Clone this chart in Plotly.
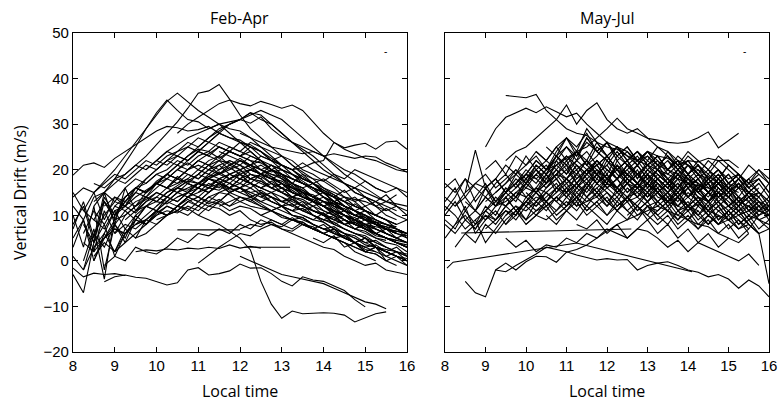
import plotly.graph_objects as go

STEP = 0.25  # hours between samples

# ---------------- Feb-Apr panel ----------------
feb_start = [10.5, 8.5, 8.0, 8.5, 8.5, 10.0, 13.25, 12.0,
             8.75, 10.5, 12.0, 8.0, 9.5, 11.0,
             8.0, 8.0, 8.0, 8.25, 8.25, 8.5, 8.5, 8.75, 8.5, 9.0,
             8.0, 8.25, 8.5, 9.0, 9.25, 9.5, 8.0, 8.75, 10.0, 10.5,
             9.75, 11.0, 12.0, 12.5, 13.0, 11.5, 8.0, 8.0, 9.0, 10.25,
             12.0, 13.5, 8.25, 9.5, 10.0, 12.25, 14.0, 13.0, 14.5, 8.75,
             11.0, 9.25]
feb_vals = [
    [28, 30, 31.5, 33, 34.5, 35.3, 34.5, 34, 35, 34.3, 33.5, 34.2, 33, 30.5, 28, 26, 24.5, 23.5, 22.5, 22, 21, 20, 19.5],
    [13, 15, 17, 19, 21, 23, 25.5, 28, 30.5, 33.5, 36.8, 37.3, 38.7, 35.5, 32, 29, 27, 25, 23, 21, 19.5, 18, 16, 14.5, 13, 11, 10, 8.5, 7, 6],
    [18.8, 21, 21.5, 20.5, 22.5, 24, 25.5, 27, 28.5, 29.5, 29.2, 28.5, 28.8, 29.5, 28, 27, 26.5, 25, 24, 22.5, 21, 20, 18.5, 17, 15.5, 14.5, 13, 12, 11, 10],
    [15, 17.5, 20, 23, 26, 29, 32, 35, 36.8, 35, 33, 31.5, 30, 29, 28.5, 27, 25, 23, 21, 19, 17.5, 16, 14, 12.5, 11],
    [12, 15, 18, 21.5, 25, 29, 32.5, 35.3, 33, 31, 30.5, 29, 30, 28, 26, 24, 22, 20, 18, 16.5, 15, 13],
    [22, 24, 25.5, 27, 28, 29, 30, 30.5, 31, 30.2, 31.6, 29, 27.2, 26, 25, 24, 23, 21.5, 20, 19, 17.5, 16, 15],
    [20, 20.5, 21.5, 22, 26, 24.8, 25.4, 25.8, 24.5, 26.1, 26.3, 24.5],
    [28, 27, 26, 25, 24.5, 24, 23.5, 24, 23, 23.5, 23, 22.5, 23, 22.8, 21.5, 20.6, 19.5],
    [-4.6, -3.5, -3.1, -3.6, -3.8, -4.5, -5.3, -4.8, -2, -1.5, -3.1, -2.8, -2.2, -0.7, -1.6, -1.5, -2.8, -4.5, -5.5, -3.5, -4.2, -4.5, -5.5, -6.5, -8.5, -10.1],
    [12, 11.5, 10, 9, 8, 6.5, 5, 2.4, -4.5, -9.5, -12.6, -11, -11.6, -11.5, -11.4, -11.5, -11.9, -13.4, -12.5, -11.6, -11.2],
    [1, 0, -1, -2, -3, -3.5, -4, -4.5, -5, -6, -7, -8, -9, -9.5, -10.5],
    [-1.6, -3.5, -2.7, -3, -2.8, -3.2],
    [2, 2.4, 2.2, 2.6, 2.4, 2.8, 2.6, 3, 2.7, 3.5, 2.8, 3.2, 2.8],
    [-0.5, 1.3, 3, 4.5, 6, 5.5, 7, 8, 7, 6.5, 8, 7, 6, 5, 4, 3, 2, 1.5, 0, -1],
    [5, 9, 2, 11, 6, 10, 12, 13.5, 15, 14, 16, 17.5, 17, 18.5, 19, 18, 19.5, 20, 19, 18, 17.5, 16, 15, 14.5, 13, 12, 11.5, 10, 9, 8, 7.5, 6, 5.5],
    [10, 3, 12, -2, 8, 11, 9, 12, 13, 12.5, 14, 15, 14, 16, 15.5, 17, 16, 15, 15.5, 14, 13, 13.5, 12, 11, 10.5, 9, 8, 8.5, 7, 6, 5, 4.5, 4],
    [-3, -7, 4, 8, 1, 6, 9, 8, 10.5, 12, 11, 13, 14, 12.5, 13.5, 12, 13, 12, 11.5, 11, 10, 9, 9.5, 8, 7, 6, 5.5, 4, 3, 3.5, 2, 1, 0.5],
    [0, 7, -4, 10, 13, 12, 15, 17, 16, 18, 20, 21, 20, 22, 21.5, 20, 21, 19, 18, 17, 15.5, 14, 13, 12, 10.5, 9, 8, 7, 5.5, 5, 4, 3],
    [8, 4, 13, 9, 14, 16, 15, 17.5, 19, 18, 17, 19, 18, 17.5, 16, 15, 16, 14.5, 13, 12, 12.5, 11, 10, 9, 8.5, 7, 6, 5.5, 4, 3],
    [3, 5, 9, 10, 12, 14, 13, 15, 16.5, 18, 17, 18.5, 20, 21, 22, 20.5, 19, 18, 17, 15, 14, 13.5, 12, 11, 10, 8.5, 7, 6, 5],
    [1, 4, 2, 6, 8, 9, 11, 10, 12, 13.5, 12, 14, 15, 14.5, 13, 14, 12.5, 11, 12, 10, 9.5, 8, 7, 6.5, 5, 4, 2.5, 2],
    [12, 14, 13, 16, 17, 19, 18, 20, 21.5, 20, 22, 23, 21, 22.5, 21, 20, 18.5, 17, 16, 14.5, 13, 12, 10.5, 9, 8, 7, 6],
    [6, 10, 13, 12, 15, 18, 20, 22, 21, 23, 24.5, 24, 26, 25, 24, 23, 22, 20, 19, 17, 15.5, 14, 13, 11.5, 10, 9, 7.5, 7],
    [2, 4, 6, 8, 10, 11, 10.5, 12, 11, 13, 12.5, 11, 12, 11.5, 10, 11, 9.5, 9, 8, 7.5, 6, 5, 5.5, 4, 3],
    [12, 9, 14, 15, 13, 16, 18, 17, 19, 20, 22, 21, 23, 24, 22.5, 24, 23, 22, 21.5, 20, 18.5, 17, 16, 14, 13, 12.5, 11, 10, 9, 8.5, 7, 6.5, 6],
    [6, 11, 8, 12, 11, 13, 14, 13, 15, 16, 15.5, 17, 18, 19.5, 18, 19, 20, 19, 18.5, 17, 16, 15.5, 14, 13, 12.5, 11, 10, 9.5, 8, 7.5, 7, 6],
    [9, 7, 11, 12, 10.5, 13, 14, 16, 15, 17, 16, 15, 16.5, 15, 14, 13.5, 12, 11, 10, 9, 8.5, 7, 6, 5, 4, 2, 1, 0],
    [10, 12, 14, 15.5, 17, 19, 21, 20, 22, 23.5, 25, 24, 26, 25.5, 24, 22, 21, 20, 18, 17, 15, 14, 12, 11, 9.5, 8, 7, 6, 5],
    [14, 16, 18, 20, 22, 24, 26, 25, 27, 28.5, 30, 31, 32.5, 31, 30, 28, 26, 24.5, 23, 21, 19, 17, 15, 14, 12, 10, 9],
    [8, 10, 12, 14, 13, 15, 16, 18, 17, 19, 20, 21, 20, 19, 18.5, 17, 16, 14, 13, 12, 10, 9, 7.5, 6, 5, 4],
    [15, 11, 9, 13, 10, 14, 16, 15, 17, 19, 18, 20, 22, 21, 19, 20.5, 19, 17, 16, 15, 14, 12.5, 11, 10, 8.5, 7, 6, 5, 3.5, 3, 2, 1, 0],
    [5, 7, 6, 9, 8, 10, 12, 11, 13, 14, 13, 15, 16, 17, 16, 17.5, 16, 15, 14, 13.5, 12, 11, 10, 8, 7, 6, 5, 4.5],
    [12, 14, 16, 17.5, 19, 21, 22, 24, 23, 25, 24, 22, 23, 21, 19, 17, 15.5, 14, 12, 11, 10, 8, 7, 6.5],
    [20, 22, 24, 26, 28, 30, 31, 32.5, 32, 30, 28, 26, 24, 22, 20, 18.5, 17, 15, 14, 13, 12, 11],
    [15, 17, 19, 21, 23, 25, 27, 29, 30, 31, 32, 33, 32, 31, 29, 27, 25, 23, 21, 19, 17.5, 16, 14.5, 13, 12],
    [10, 12, 13, 15, 16, 18, 19, 20, 21, 20, 21.5, 20, 19, 18, 17, 16, 15, 14, 13, 12.5, 12],
    [18, 17, 16, 17, 15, 14, 15, 13, 12, 13, 11, 10, 9, 8.5, 8, 7, 6, 5],
    [14, 13, 12, 13.5, 12, 11, 10, 11, 9, 8, 9, 7, 6, 5, 6, 4],
    [12, 11, 12.5, 10, 9, 10, 8, 7, 8, 6, 5, 4, 3],
    [24, 23, 22, 21, 22, 20, 19, 18, 17, 15.5, 14, 13, 14, 12, 11, 10, 9, 8, 9, 7],
    [1, -2, 6, 3, 8, 5, 10, 8, 11, 10, 12, 11, 13, 12, 11.5, 10, 11, 9, 8, 8.5, 7, 6, 5, 4, 3, 2.5, 1, 0, -1, -0.5, -2, -2.5, -3],
    [7, 13, 5, 15, 8, 16, 11, 14, 17, 16, 18.5, 17, 16, 18, 17, 15, 16, 14, 13, 12, 11, 10, 9.5, 8, 7, 7.5, 6, 5, 4, 4.5, 3, 2, 1],
    [18, 19, 21, 20, 22, 21, 23, 22, 24, 23, 22, 20, 21, 19, 18, 16, 17, 15, 14, 13, 12, 11, 10, 9.5, 8, 8.5, 7, 6.5, 6],
    [16, 17, 18, 20, 19, 21, 22, 21, 20, 21, 19.5, 20, 19, 18, 17, 18, 16.5, 15, 16, 14, 13, 14.5, 12, 11],
    [7, 8, 7.5, 9, 8, 7, 8.5, 7, 6, 7, 5, 4, 5, 3, 2, 3, 1],
    [10, 9, 10.5, 8, 9, 7, 8, 6, 7, 5],
    [4, 2, 5, 7, 6, 8, 9, 11, 10, 12, 14, 13, 15, 17, 16, 18, 19, 18, 20, 19, 18, 17, 16, 15, 13, 12, 11, 9, 8, 6, 5, 4],
    [5, 6, 8, 10, 12, 14, 16, 18, 19, 20, 22, 21, 23, 22, 20, 19, 17, 16, 15, 13, 12, 10, 9, 8, 7, 6],
    [11, 13, 12, 14, 15, 17, 16, 18, 19, 17, 16, 15, 16, 14, 13, 12, 13, 11, 10, 9, 10, 8, 7, 6],
    [20, 19, 18, 19, 17, 16, 17, 15, 14, 13, 14, 12, 13, 11, 12, 10],
    [15, 14, 15.5, 13, 14, 12, 13, 14.5],
    [18, 17, 19, 18, 17.5, 19, 18, 20, 19, 18, 17, 16, 15],
    [6, 4, 2, 3, 0, 1, -1],
    [-1, 1, 0, 3, 2, 1.5, 3, 5, 4, 6, 5.5, 7, 6, 8, 7, 9, 8, 7.5, 9, 8, 7, 6, 5, 4, 3, 2, 1.5, 0],
    [15, 16, 17, 18, 17, 19, 18.5, 17, 16, 17, 15, 14, 15, 13, 12, 11, 12, 10, 9, 8],
    [9, 11, 12, 14, 13, 15, 16, 17, 16.5, 18, 19, 18, 17, 16, 17.5, 16, 15, 14, 13, 12, 11, 10, 9, 8, 7.5, 7, 6],
]
feb_more_start = [8.0, 8.0, 8.25, 8.5, 9.0, 9.5, 10.0, 10.5, 11.0, 11.5, 12.0, 12.75,
                  13.25, 13.75, 14.25, 14.5, 8.0, 8.25, 9.0, 9.75, 10.0, 12.5, 13.0, 8.5]
feb_more_vals = [
    [8, 12, 4, 14, 10, 13, 15, 14, 16, 18, 17, 19, 18, 20, 21, 19, 20, 18, 17.5, 16, 15, 13.5, 12, 11, 10, 9.5, 8, 7, 6.5, 5, 4, 3.5, 2],
    [3, 9, 0, 6, 11, 7, 10, 12, 11, 13, 15, 14, 16, 15, 17, 16, 15, 14, 15, 13, 12, 11, 11.5, 10, 9, 8, 7, 6, 5, 4, 3, 2, 1.5],
    [11, 15, 9, 14, 12, 16, 15, 17, 16, 18, 17, 16, 18, 17, 15.5, 16, 14.5, 13, 14, 12, 11, 10, 9, 8.5, 7, 6, 5.5, 4, 3, 2.5, 2, 1],
    [0, 5, 8, 4, 9, 12, 11, 14, 13, 15, 17, 16, 18, 19, 18, 20, 19, 21, 20, 18, 17, 16, 14, 13, 11, 10, 9, 8, 7],
    [12, 14, 16, 15, 17, 18, 20, 19, 18, 20, 19, 21, 20, 18, 19, 17, 16, 14, 15, 13, 12, 11, 10, 8, 7, 6, 5, 4, 3.5],
    [11, 13, 15, 14, 16, 15, 17, 19, 18, 17, 16, 17, 15, 14, 13, 14, 12, 11, 10, 8, 7, 6, 5, 3, 2, 1],
    [17, 19, 18, 20, 22, 21, 23, 25, 24, 26, 25, 24, 23, 22, 20, 19, 17.5, 16, 14, 13, 11, 10, 9, 7, 6],
    [14, 15, 17, 16, 18, 17, 19, 18, 17, 16, 17, 15, 14, 13, 12, 13, 11, 10, 9, 8, 7, 6],
    [19, 21, 20, 22, 21, 23, 22, 20, 19, 18, 17, 16, 15, 13, 12, 11, 10, 9, 8, 7, 6],
    [12, 13, 14, 13, 15, 14, 13, 12, 11, 12, 10, 9, 8, 9, 7, 6, 5, 4, 3],
    [22, 21, 20, 21, 19, 18, 17, 16, 15, 14, 12, 11, 10, 9, 8, 7, 5],
    [16, 15, 16.5, 14, 13, 14, 12, 11, 10, 11, 9, 8, 7.5],
    [9, 8, 7, 8, 6, 5, 4, 5, 3, 2, 1, 0],
    [5, 4, 5.5, 3, 4, 2, 3, 1, 2, 0],
    [12, 11, 12.5, 11, 10, 11.5, 10, 9],
    [17, 16, 17.5, 16, 15, 16, 14],
    [14, 16, 15, 17, 19, 18, 20, 22, 21, 23, 24, 25, 24, 26, 25, 24, 23, 22, 20, 19, 18, 16, 15, 14, 12, 11, 10, 9, 8, 7, 6, 5, 4],
    [-2, 3, 6, 2, 7, 5, 9, 8, 10, 11, 10, 12, 11, 13, 12, 14, 13, 12, 11, 12, 10, 9, 8, 7, 6, 5, 4, 3, 2, 1, 0, -1],
    [6, 8, 7, 9, 11, 10, 12, 14, 13, 15, 17, 16, 18, 17, 19, 18, 16, 15, 14, 13, 12, 10, 9, 8, 7, 6, 5, 4, 3],
    [20, 22, 24, 23, 25, 27, 26, 28, 27, 26, 25, 23, 22, 21, 20, 18, 17, 15, 14, 13, 12, 11, 10, 9, 8],
    [9, 10, 11, 13, 12, 14, 13, 15, 16, 15, 14, 15, 13, 12, 13, 11, 10, 9, 10, 8, 7, 6, 5, 4.5],
    [10, 9, 8, 9.5, 8, 7, 6, 7, 5, 4, 5, 3, 2, 1, 0, -1],
    [14, 13, 12, 13, 11, 10, 11, 9, 8, 7, 6, 5, 4],
    [17, 16, 18, 17, 19, 21, 20, 22, 23, 22, 24, 23, 25, 24, 23, 24, 22, 21, 20, 19, 18, 17, 16, 15, 14, 13.5, 13, 12, 11],
]
# segments recorded with data gaps (joined by straight lines)
feb_gap_x = [[10.5, 12.0], [12.1, 13.2]]
feb_gap_y = [[6.8, 6.8], [3.0, 3.0]]

# ---------------- May-Jul panel ----------------
may_start = [9.5, 9.0, 9.5, 10.5, 12.5, 8.5, 9.25, 9.5, 13.0,
             8.0, 8.0, 8.0, 8.0, 8.25, 8.5, 8.75, 9.0, 9.25, 9.5, 9.0,
             10.0, 10.25, 8.0, 8.0, 9.75, 10.5, 11.0, 11.5, 8.25, 9.5,
             10.0, 12.0, 12.5, 8.0, 9.0, 10.75, 13.0, 8.5, 11.25, 9.0,
             10.0, 14.0, 13.5, 8.75, 12.25, 9.25, 10.5]
may_vals = [
    [36.3, 36.1, 35.8, 36.5, 33, 31, 29, 28, 27.5, 26, 25, 24.5, 23, 22, 23, 21, 20, 19, 18, 17],
    [25, 29, 31.5, 32.5, 33.5, 32.5, 33.8, 32.7, 31.6, 32.4, 30, 28, 26, 25, 24, 22, 21, 20, 19, 18, 17, 16.5, 16, 15, 14],
    [22, 24, 25, 27, 29, 31, 34.2, 30, 33, 34.7, 31, 29, 28, 29, 27, 25, 24, 22, 21, 20, 18.5, 17, 16, 15],
    [19, 21, 22.5, 24, 25, 27, 29, 31.3, 29, 28, 26.9, 26.5, 26, 25.8, 26.1, 27, 28.3, 24.8, 26.5, 28],
    [23, 22, 24, 23, 22.5, 21, 22, 21.7, 22.5, 22, 22.1, 20.4],
    [-4.5, -7, -7.9, -2, -0.5, -2, -0.2, 1, 0.9, -0.3, 1.9, 2.5, 3.5, 5, 6.5, 8, 9, 10, 11, 12, 11, 10, 9, 8, 7.5, 6, 5],
    [-2, -2.4, -1, 0.2, 1.5, 3, 2.5, 2, 1.3, 0.8, 0.2, 0.5, 0.2, 0.3, -2, -1, -0.5, -0.2, -1, -2, -2.5, -3.5, -3, -4, -6, -4.2, -5.5, -7.9],
    [5, 3, 4.5, 2, 3.5, 3, 5, 4, 6, 5, 7, 6, 5, 7, 6.5, 5, 3, 4.5, 2, 4, 3, 2, 1, 0, 1.5, -1],
    [12, 11, 13, 12, 11, 12.5, 11, 10, 9, 10, 8, 6, -5],
    [14, 12, 15, 17, 16, 18, 15, 17, 19, 18, 20, 21, 19, 22, 20, 21, 23, 20, 19, 21, 18, 20, 17, 19, 16, 18, 15, 14, 16, 13, 12, 11, 10],
    [10, 13, 9, 11, 14, 12, 13, 15, 14, 16, 15, 17, 14, 16, 18, 15, 17, 16, 14, 15, 17, 14, 13, 15, 12, 14, 13, 11, 12, 10, 11, 9, 8],
    [17, 15, 18, 16, 14, 17, 19, 16, 18, 20, 17, 19, 22, 18, 20, 19, 17, 21, 18, 16, 19, 17, 15, 18, 14, 16, 17, 13, 15, 12, 14, 11, 13],
    [5, 8, 12, 6, 9, 11, 8, 10, 13, 11, 12, 14, 12, 15, 13, 14, 12, 16, 13, 14, 12, 13, 15, 11, 12, 10, 13, 9, 11, 8, 10, 9, 7],
    [12, 14, 11, 16, 13, 15, 18, 16, 19, 17, 20, 18, 21, 19, 22, 20, 18, 21, 19, 17, 20, 18, 16, 19, 15, 17, 14, 16, 13, 12, 14, 11],
    [15, 24.3, 16, 18, 15, 17, 20, 18, 16, 19, 21, 17, 20, 18, 22, 19, 17, 20, 16, 19, 17, 15, 18, 16, 14, 17, 15, 13, 15, 14],
    [9, 11, 13, 12, 14, 16, 15, 17, 19, 18, 16, 19, 21, 18, 20, 17, 19, 16, 18, 15, 17, 14, 16, 13, 15, 12, 14, 11, 12],
    [7, 9, 11, 10, 13, 12, 14, 16, 15, 17, 14, 16, 18, 15, 17, 16, 14, 17, 15, 13, 16, 14, 12, 15, 13, 11, 12, 10, 11],
    [18, 21, 19, 23, 20, 22, 25, 22, 24, 21, 23, 26, 22, 24, 21, 23, 20, 22, 19, 21, 18, 20, 17, 19, 16, 18],
    [14, 16, 19, 17, 20, 23, 21, 24, 22, 26, 23, 25, 22, 24, 21, 23, 20, 22, 19, 21, 18, 20, 17, 19, 16],
    [11, 14, 12, 15, 17, 15, 18, 20, 17, 19, 22, 19, 21, 18, 20, 22, 19, 21, 18, 20, 17, 19, 16, 18, 15, 17, 14, 15, 13],
    [12, 14, 13, 16, 14, 17, 15, 18, 16, 14, 17, 15, 13, 16, 14, 12, 15, 13, 11, 14, 12, 10, 12, 9, 10],
    [20, 18, 21, 23, 20, 22, 19, 21, 24, 21, 23, 20, 22, 19, 21, 18, 20, 17, 19, 16, 18, 15, 17],
    [8, 6, 9, 7, 10, 8, 11, 9, 12, 10, 13, 11, 14, 12, 13, 15, 12, 14, 11, 13, 15, 12, 14, 11, 13, 10, 12, 9, 11, 8, 10, 7, 9],
    [12, 10, 7, 9, 4, 7, 10, 12, 9, 11, 13, 10, 12, 14, 11, 13, 10, 12, 14, 11, 13, 10, 12, 9, 11, 8, 10, 8, 9, 7, 8, 6, 7],
    [17, 19, 22, 20, 23, 25, 22, 27, 24, 26, 23, 25, 22, 24, 21, 23, 20, 22, 19, 18, 20, 17, 16, 18, 15],
    [16, 18, 15, 19, 17, 20, 18, 16, 19, 17, 20, 18, 16, 19, 17, 15, 18, 16, 14, 17, 15, 13],
    [22, 24, 21, 25, 23, 20, 22, 24, 21, 23, 20, 22, 19, 21, 18, 20, 17, 19, 16, 18, 15],
    [14, 16, 13, 15, 17, 14, 16, 13, 15, 12, 14, 16, 13, 15, 12, 14, 11, 13, 10],
    [3, 6, 4, 8, 6, 9, 11, 8, 10, 12, 9, 11, 13, 10, 12, 14, 11, 13, 10, 12, 9, 11, 8, 10, 7, 9, 6, 8, 5, 7],
    [10, 12, 11, 13, 15, 13, 16, 14, 17, 15, 18, 16, 14, 17, 15, 18, 16, 14, 17, 15, 13, 16, 14, 12, 14, 12, 11],
    [19, 22, 20, 24, 27, 24, 29, 26, 23, 25, 22, 24, 21, 23, 20, 22, 19, 21, 18, 20, 17, 19, 16],
    [18, 20, 17, 19, 21, 18, 20, 22, 19, 21, 18, 20, 17, 19, 16, 18, 15],
    [10, 12, 9, 11, 13, 10, 12, 9, 11, 8, 10, 7, 9, 6],
    [16, 18, 14, 17, 19, 16, 18, 20, 17, 19, 21, 18, 20, 17, 19, 21, 18, 16, 19, 17, 15, 18, 16, 14, 17, 15, 13, 16, 14, 12, 15, 13, 11],
    [20, 22, 19, 23, 21, 24, 22, 20, 23, 21, 19, 22, 20, 18, 21, 19, 17, 20, 18, 16, 19, 17, 15, 18, 16],
    [10, 12, 14, 11, 13, 15, 12, 14, 16, 13, 15, 12, 14, 11, 13, 10, 12, 9, 11, 8],
    [15, 17, 14, 16, 18, 15, 17, 14, 16, 13, 15, 12, 14],
    [6, 8, 10, 9, 12, 14, 12, 15, 13, 16, 18, 15, 17, 19, 16, 18, 15, 17, 14, 16, 13, 15, 12, 14, 11, 13, 10, 12, 9, 10],
    [8, 7, 9, 6, 8, 5, 7, 9, 6, 8, 5, 7, 4, 6, 3, 5, 4, 6],
    [13, 15, 17, 19, 21, 23, 20, 22, 25, 23, 27, 24, 22, 20, 18, 16, 17, 15, 13, 14, 12, 11],
    [8, 10, 9, 11, 13, 11, 14, 12, 10, 13, 11, 9, 12, 10, 8, 11, 9, 7, 10, 8],
    [16, 18, 15, 17, 19, 16, 18, 20, 17],
    [22, 20, 23, 21, 19, 22, 20, 18, 21, 19, 17],
    [11, 9, 12, 14, 11, 13, 16, 13, 15, 17, 14, 16, 19, 16, 18, 20, 17, 19, 16, 18, 15, 17, 14, 13, 15, 12, 11],
    [12, 14, 11, 13, 15, 12, 14, 11, 13, 10, 12, 9, 11, 8, 6],
    [15, 17, 20, 18, 21, 19, 23, 21, 19, 22, 20, 18, 21, 19, 17, 20, 18, 16, 18, 17],
    [25, 23, 27, 25, 28, 24, 26, 23, 25, 22, 24, 21, 23, 20, 22, 19],
]
may_more_start = [8.0, 8.0, 8.5, 9.0, 9.5, 10.0, 10.25, 10.75, 11.0, 11.5,
                  12.0, 12.5, 13.25, 13.75, 8.25, 9.25, 10.5, 14.5, 12.75, 8.0]
may_more_vals = [
    [13, 16, 11, 14, 17, 13, 16, 14, 18, 15, 17, 19, 16, 18, 20, 17, 19, 15, 18, 16, 19, 15, 17, 14, 16, 13, 15, 12, 14, 11, 13, 10, 12],
    [9, 7, 11, 8, 12, 10, 14, 11, 13, 15, 12, 14, 16, 13, 17, 14, 16, 18, 15, 17, 14, 16, 13, 15, 12, 14, 11, 13, 10, 12, 9, 11, 10],
    [13, 11, 14, 12, 16, 14, 17, 15, 19, 16, 18, 21, 18, 20, 17, 22, 19, 17, 20, 18, 16, 19, 17, 15, 18, 16, 14, 16, 15, 13],
    [16, 18, 15, 19, 17, 21, 19, 23, 20, 22, 24, 21, 23, 20, 22, 19, 21, 23, 20, 18, 21, 19, 17, 19, 16, 18, 15, 17, 14],
    [8, 11, 9, 13, 11, 14, 12, 16, 14, 17, 15, 13, 16, 14, 17, 15, 13, 16, 14, 12, 15, 13, 11, 13, 10, 12, 9],
    [15, 13, 16, 18, 15, 17, 20, 17, 19, 16, 18, 21, 18, 20, 17, 19, 16, 18, 15, 17, 14, 16, 13, 15, 12],
    [24, 22, 25, 27, 23, 26, 24, 22, 25, 23, 21, 24, 22, 20, 23, 21, 19, 22, 20, 18, 19, 17, 18],
    [13, 15, 12, 16, 14, 17, 15, 13, 16, 18, 15, 17, 14, 16, 13, 15, 17, 14, 12, 15, 13],
    [18, 16, 19, 17, 20, 18, 21, 19, 17, 20, 18, 16, 19, 17, 15, 18, 16, 14, 17, 15, 13],
    [20, 22, 19, 23, 21, 18, 22, 20, 24, 21, 19, 22, 20, 18, 21, 19, 17, 19],
    [13, 11, 14, 12, 15, 13, 11, 14, 12, 16, 13, 15, 12, 14, 11, 13, 12],
    [16, 14, 17, 15, 13, 16, 14, 17, 15, 18, 15, 17, 14, 16],
    [19, 17, 20, 18, 16, 19, 17, 15, 18, 16, 14, 17],
    [11, 9, 12, 10, 8, 11, 9, 7, 10],
    [8, 10, 7, 11, 9, 12, 10, 14, 12, 15, 13, 11, 14, 12, 15, 13, 11, 14, 12, 10, 13, 11, 9, 12, 10, 8, 11, 9, 7],
    [12, 15, 13, 17, 20, 17, 22, 19, 24, 21, 19, 23, 20, 22, 18, 21, 19, 17, 20, 18, 16, 18, 15, 17, 14],
    [10, 8, 11, 9, 12, 10, 8, 11, 9, 12, 10, 8, 10, 7, 9, 11, 8, 10, 7, 9, 6],
    [20, 18, 21, 19, 17, 20, 18],
    [24, 22, 25, 23, 21, 24, 22, 20, 23, 21],
    [11, 14, 18, 13, 16, 12, 15, 17, 14, 16, 19, 15, 18, 20, 16, 19, 17, 21, 18, 16, 19, 17, 15, 17, 14, 16, 13, 15, 12, 14, 13, 11, 12],
]
may_gap_x = [[8.05, 8.2, 11.25, 14.1], [8.4, 12.6]]
may_gap_y = [[-1.6, -0.3, 3.9, -2.4], [6.1, 7.0]]

# ---------------- figure ----------------
fig = go.Figure()
line_style = dict(color="black", width=1.1)


def add_series(starts, vals, xa, ya):
    for s, v in zip(starts, vals):
        x = [s + STEP * i for i in range(len(v))]
        fig.add_trace(go.Scatter(x=x, y=v, mode="lines", line=line_style,
                                 xaxis=xa, yaxis=ya, showlegend=False, hoverinfo="skip"))


def add_gaps(gx, gy, xa, ya):
    for x, y in zip(gx, gy):
        fig.add_trace(go.Scatter(x=x, y=y, mode="lines", line=line_style,
                                 xaxis=xa, yaxis=ya, showlegend=False, hoverinfo="skip"))


add_series(feb_start, feb_vals, "x", "y")
add_series(feb_more_start, feb_more_vals, "x", "y")
add_gaps(feb_gap_x, feb_gap_y, "x", "y")
add_series(may_start, may_vals, "x2", "y2")
add_series(may_more_start, may_more_vals, "x2", "y2")
add_gaps(may_gap_x, may_gap_y, "x2", "y2")

W, H = 783, 406
tick_font = dict(family="Liberation Sans, Arial, sans-serif", size=15, color="black")
label_font = dict(family="Open Sans, sans-serif", size=16, color="black")

xcommon = dict(range=[8, 16], tickvals=list(range(8, 17)), ticks="inside", ticklen=5,
               tickcolor="black", showline=True, linecolor="black", linewidth=1.3,
               mirror="ticks", showgrid=False, zeroline=False, tickfont=tick_font,
               automargin=False)
ycommon = dict(range=[-20, 50], tickvals=list(range(-20, 51, 10)), ticks="inside", ticklen=5,
               tickcolor="black", showline=True, linecolor="black", linewidth=1.3,
               mirror="ticks", showgrid=False, zeroline=False, tickfont=tick_font,
               automargin=False)

ydom = [1 - 352 / H, 1 - 33 / H]
fig.update_layout(
    width=W, height=H, margin=dict(l=0, r=0, t=0, b=0),
    paper_bgcolor="white", plot_bgcolor="white", template="none",
    xaxis=dict(domain=[73 / W, 407 / W], anchor="y", **xcommon),
    yaxis=dict(domain=ydom, anchor="x", **ycommon),
    xaxis2=dict(domain=[445 / W, 769 / W], anchor="y2", **xcommon),
    yaxis2=dict(domain=ydom, anchor="x2", showticklabels=False, **ycommon),
    annotations=[
        dict(text="Feb-Apr", x=240 / W, y=1 - 18 / H, xref="paper", yref="paper",
             showarrow=False, font=label_font, xanchor="center", yanchor="middle"),
        dict(text="May-Jul", x=607 / W, y=1 - 18 / H, xref="paper", yref="paper",
             showarrow=False, font=label_font, xanchor="center", yanchor="middle"),
        dict(text="Local time", x=240 / W, y=1 - 391 / H, xref="paper", yref="paper",
             showarrow=False, font=label_font, xanchor="center", yanchor="middle"),
        dict(text="Local time", x=607 / W, y=1 - 391 / H, xref="paper", yref="paper",
             showarrow=False, font=label_font, xanchor="center", yanchor="middle"),
        dict(text="Vertical Drift (m/s)", x=20 / W, y=1 - 193 / H, xref="paper", yref="paper",
             showarrow=False, font=label_font, textangle=-90, xanchor="center", yanchor="middle"),
        dict(text="-", x=385 / W, y=1 - 44 / H, xref="paper", yref="paper",
             showarrow=False, font=dict(family="Liberation Sans", size=10, color="black")),
        dict(text="-", x=748 / W, y=1 - 44 / H, xref="paper", yref="paper",
             showarrow=False, font=dict(family="Liberation Sans", size=10, color="black")),
    ],
)

fig.write_html("out.html")
